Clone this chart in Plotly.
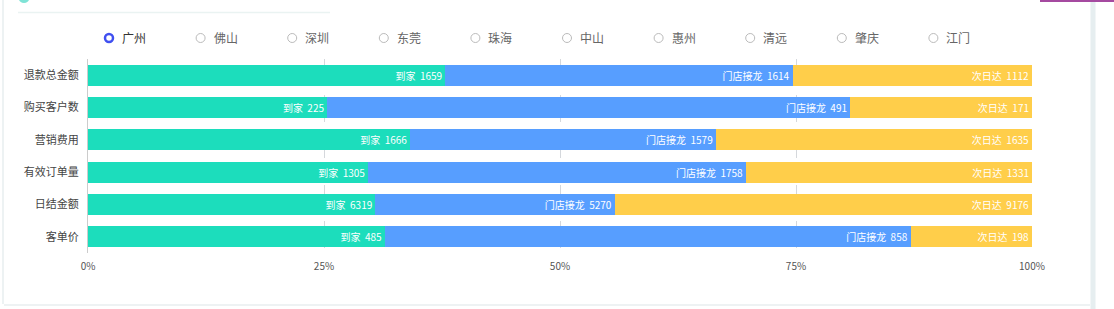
import plotly.graph_objects as go

categories = ["退款总金额", "购买客户数", "营销费用", "有效订单量", "日结金额", "客单价"]
series_names = ["到家", "门店接龙", "次日达"]
daojia = [1659, 225, 1666, 1305, 6319, 485]
mendian = [1614, 491, 1579, 1758, 5270, 858]
ciri = [1112, 171, 1635, 1331, 9176, 198]
cities = ["广州", "佛山", "深圳", "东莞", "珠海", "中山", "惠州", "清远", "肇庆", "江门"]
x_ticks = [0, 25, 50, 75, 100]
x_tick_labels = ["0%", "25%", "50%", "75%", "100%"]

W, H = 1114, 309
L, R, T, B = 88, 1032, 59, 253
PW, PH = R - L, B - T


def px(x):
    return (x - L) / PW


def py(y):
    return 1 - (y - T) / PH


colors = ["#1CDDBC", "#579EFF", "#FFCE4A"]
values = [daojia, mendian, ciri]

fig = go.Figure()
for name, vals, col in zip(series_names, values, colors):
    fig.add_trace(go.Bar(
        y=categories, x=vals, name=name, orientation="h",
        marker=dict(color=col, line=dict(width=0)),
        text=[f"{name}  {v}" for v in vals],
        textposition="inside", insidetextanchor="end",
        textfont=dict(color="white", size=10, family="Noto Sans CJK SC"),
        constraintext="none",
        cliponaxis=False,
    ))

shapes = []
# card borders
shapes.append(dict(type="line", xref="paper", yref="paper",
                   x0=px(3), x1=px(3), y0=py(0), y1=py(304),
                   line=dict(color="#EDF2F3", width=2), layer="below"))
shapes.append(dict(type="line", xref="paper", yref="paper",
                   x0=px(1093), x1=px(1093), y0=py(2), y1=py(309),
                   line=dict(color="#E6EEF0", width=5), layer="below"))
shapes.append(dict(type="line", xref="paper", yref="paper",
                   x0=px(4), x1=px(1090), y0=py(305), y1=py(305),
                   line=dict(color="#EEF2F3", width=2), layer="below"))
# header underline
shapes.append(dict(type="line", xref="paper", yref="paper",
                   x0=px(18), x1=px(330), y0=py(12.5), y1=py(12.5),
                   line=dict(color="#EAF3F2", width=1.5), layer="below"))
# purple strip top-right
shapes.append(dict(type="line", xref="paper", yref="paper",
                   x0=px(1040), x1=px(1114), y0=py(0.8), y1=py(0.8),
                   line=dict(color="#A54AA0", width=2.5), layer="below"))
# teal header icon
shapes.append(dict(type="circle", xref="paper", yref="paper",
                   x0=px(19), x1=px(29), y0=py(-5), y1=py(3),
                   fillcolor="#7FE3D6", line=dict(width=0), layer="below"))

annotations = []
# city selector legend
for i, c in enumerate(cities):
    cx = 109 + i * 91.6
    cy = 38
    if i == 0:
        shapes.append(dict(type="circle", xref="paper", yref="paper",
                           x0=px(cx - 4), x1=px(cx + 4), y0=py(cy - 4), y1=py(cy + 4),
                           fillcolor="white", line=dict(color="#4050F0", width=2.5)))
        tcol = "#333"
    else:
        shapes.append(dict(type="circle", xref="paper", yref="paper",
                           x0=px(cx - 4.5), x1=px(cx + 4.5), y0=py(cy - 4.5), y1=py(cy + 4.5),
                           fillcolor="white", line=dict(color="#BBBBBB", width=1)))
        tcol = "#666"
    annotations.append(dict(xref="paper", yref="paper", x=px(cx + 11), y=py(cy),
                            text=c, showarrow=False, xanchor="left", yanchor="middle",
                            font=dict(size=12, color=tcol, family="Noto Sans CJK SC")))

fig.update_layout(
    width=W, height=H,
    margin=dict(l=L, r=W - R, t=T, b=H - B, pad=0),
    barmode="stack", barnorm="percent", bargap=0.35,
    showlegend=False,
    plot_bgcolor="white", paper_bgcolor="white",
    shapes=shapes, annotations=annotations,
    uniformtext=dict(mode=False),
    xaxis=dict(range=[0, 100], tickvals=x_ticks, ticktext=x_tick_labels,
               showgrid=True, gridcolor="#D5D8DC", griddash="dash", gridwidth=1,
               zeroline=False, showline=False, ticks="",
               tickfont=dict(size=10, color="#555", family="Noto Sans CJK SC")),
    yaxis=dict(autorange="reversed", showgrid=False, ticks="",
               showline=True, linecolor="#CCCCCC", linewidth=1,
               ticklabelstandoff=6,
               tickfont=dict(size=11, color="#444", family="Noto Sans CJK SC")),
    font=dict(family="Noto Sans CJK SC"),
)
fig.update_xaxes(ticklabelstandoff=6)

fig.write_html("out.html")
